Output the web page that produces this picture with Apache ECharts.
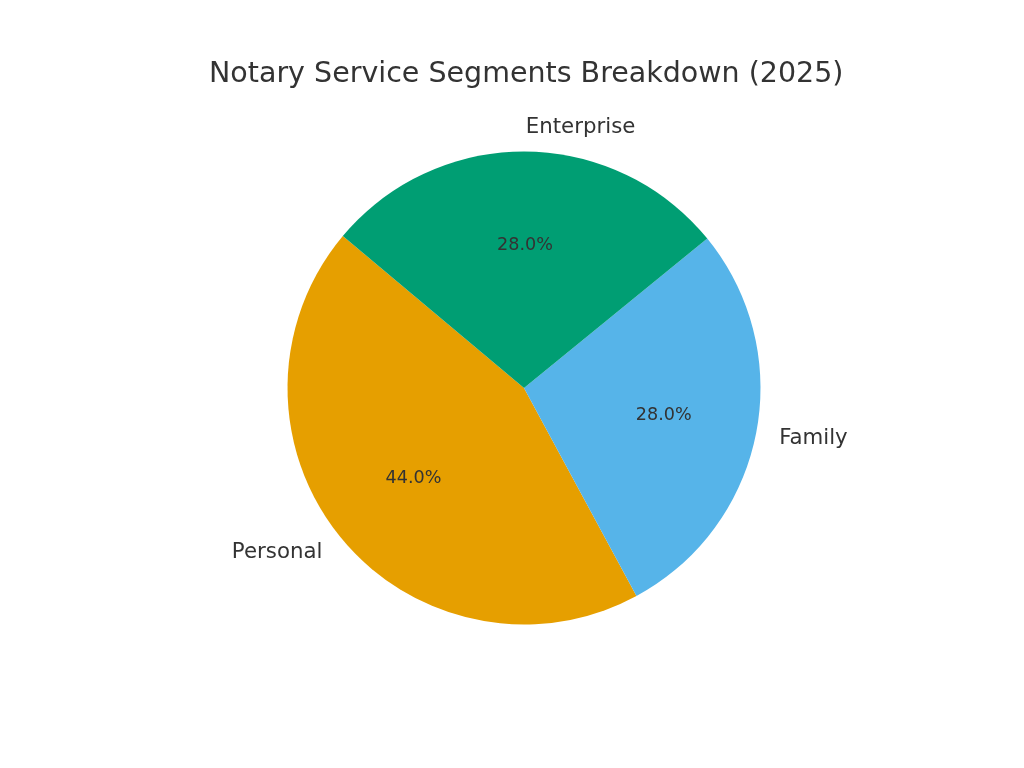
<!DOCTYPE html>
<html>
<head>
<meta charset="utf-8">
<script src="https://cdn.jsdelivr.net/npm/echarts@6/dist/echarts.min.js"></script>
<style>
  html, body { margin: 0; padding: 0; background: #fff; }
  #chart { width: 1024px; height: 768px; }
</style>
</head>
<body>
<div id="chart"></div>
<script>
// data, in drawing order (counterclockwise from 140°)
const segments = ["Personal", "Family", "Enterprise"];
const shares = [44, 28, 28];
const colors = ["#E69F00", "#56B4E9", "#009E73"];

const R = 236.5;
const center = [524, 388];
const font = "DejaVu Sans, sans-serif";

const slices = segments.map((name, i) => ({
  name,
  value: shares[i],
  itemStyle: { color: colors[i] },
}));

const chart = echarts.init(document.getElementById("chart"));
chart.setOption({
  backgroundColor: "#fff",
  animation: false,
  title: {
    text: "Notary Service Segments Breakdown (2025)",
    left: 204,
    top: 55,
    textStyle: { color: "#333", fontFamily: font, fontSize: 28.5, fontWeight: "normal" },
  },
  series: [
    {
      // the pie itself with outer name labels
      type: "pie",
      center,
      radius: [0, R],
      startAngle: 140,
      clockwise: false,
      avoidLabelOverlap: false,
      silent: true,
      itemStyle: { borderWidth: 0 },
      label: {
        show: true,
        position: "outside",
        formatter: "{b}",
        color: "#333",
        fontFamily: font,
        fontSize: 21.3,
        distanceToLabelLine: 0,
      },
      labelLine: { show: false, length: R * 0.1, length2: 0 },
      data: slices,
    },
    {
      // transparent ring so the inside labels sit near 0.6 R
      type: "pie",
      center,
      radius: [R * 0.18, R],
      startAngle: 140,
      clockwise: false,
      silent: true,
      itemStyle: { color: "transparent", borderWidth: 0 },
      label: {
        show: true,
        position: "inside",
        formatter: (p) => p.percent.toFixed(1) + "%",
        color: "#333",
        fontFamily: font,
        fontSize: 17.6,
      },
      labelLine: { show: false },
      data: segments.map((name, i) => ({ name, value: shares[i] })),
    },
  ],
});
</script>
</body>
</html>
